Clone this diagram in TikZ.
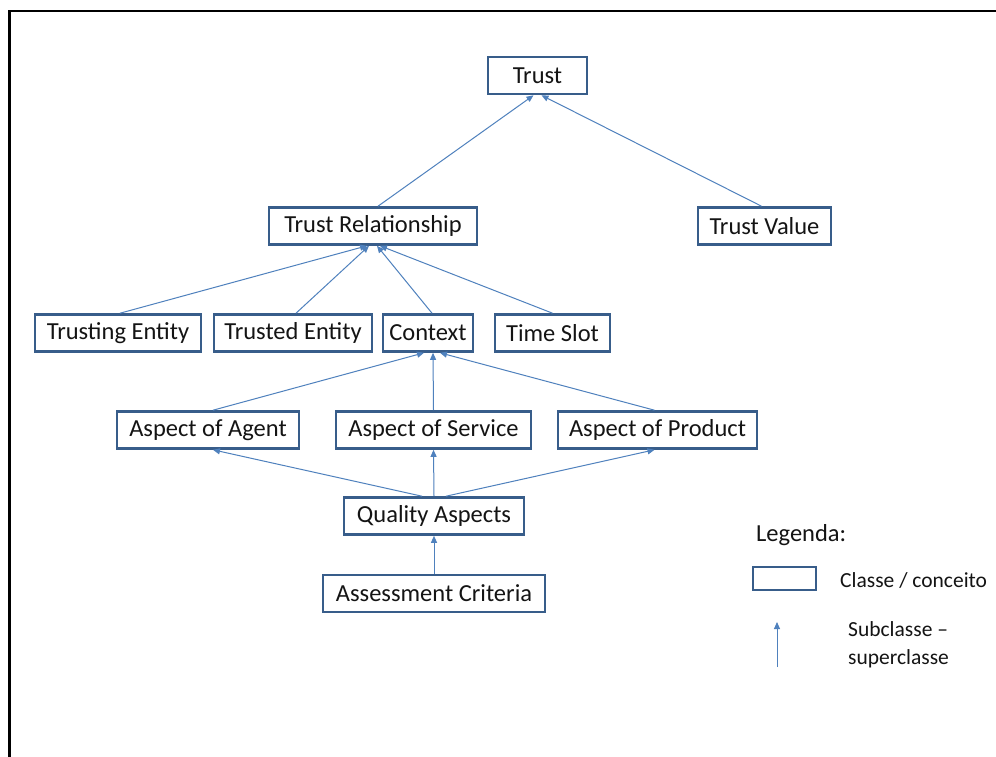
\documentclass[tikz,border=0pt]{standalone}
\usepackage{fontspec}
\setmainfont{Carlito}
\usetikzlibrary{arrows.meta}
\definecolor{boxline}{RGB}{56,93,138}
\definecolor{linkline}{RGB}{79,129,189}
\definecolor{txt}{RGB}{20,20,20}
\begin{document}
\begin{tikzpicture}[x=1pt,y=-1pt,
  cls/.style={draw=boxline,line width=2.6pt,fill=white,minimum height=37,inner sep=0pt,
    font=\fontsize{24.5}{29}\selectfont,text=txt},
  isa/.style={draw=linkline,line width=1pt,-{Triangle[length=7pt,width=6pt]}},
  note/.style={font=\fontsize{21.5}{28}\selectfont,text=txt,anchor=west,inner sep=0pt}]
\useasboundingbox (0,0) rectangle (996,756);
\fill[white] (0,0) rectangle (996,756);
% frame (left and top edges only visible)
\draw[line width=2.2pt,black] (9.5,760) -- (9.5,11) -- (1000,11);

% classes
\node[cls,minimum width=99]  (trust) at (537.5,75.5) {Trust};
\node[cls,minimum width=208] (rel)   at (373,226) {Trust Relationship};
\node[cls,minimum width=133] (val)   at (764.5,226) {Trust Value};
\node[cls,minimum width=166] (ting)  at (118,333) {Trusting Entity};
\node[cls,minimum width=158] (ted)   at (293,333) {Trusted Entity};
\node[cls,minimum width=90]  (ctx)   at (428,333) {Context};
\node[cls,minimum width=115] (slot)  at (552.5,333) {Time Slot};
\node[cls,minimum width=182] (agent) at (208,430) {Aspect of Agent};
\node[cls,minimum width=195] (serv)  at (433.5,430) {Aspect of Service};
\node[cls,minimum width=199] (prod)  at (657.5,430) {Aspect of Product};
\node[cls,minimum width=180] (qual)  at (434,516) {Quality Aspects};
\node[cls,minimum width=222] (crit)  at (434,593.5) {Assessment Criteria};

% subclass links
\draw[isa] ([xshift=5pt]rel.north)   -- ([xshift=-4pt]trust.south);
\draw[isa] ([xshift=-3pt]val.north)  -- ([xshift=4pt]trust.south);
\draw[isa] ([xshift=2pt]ting.north)  -- ([xshift=-6pt]rel.south);
\draw[isa] ([xshift=3pt]ted.north)   -- ([xshift=-4pt]rel.south);
\draw[isa] ([xshift=4pt]ctx.north)   -- ([xshift=4pt]rel.south);
\draw[isa] (slot.north)              -- ([xshift=7pt]rel.south);
\draw[isa] ([xshift=5pt]agent.north) -- ([xshift=-4pt]ctx.south);
\draw[isa] (serv.north)              -- ([xshift=5pt]ctx.south);
\draw[isa] ([xshift=-3pt]prod.north) -- ([xshift=12pt]ctx.south);
\draw[isa] ([xshift=-12pt]qual.north) -- ([xshift=5pt]agent.south);
\draw[isa] (qual.north)              -- (serv.south);
\draw[isa] ([xshift=12pt]qual.north) -- ([xshift=-3pt]prod.south);
\draw[isa] (crit.north)              -- (qual.south);

% legend
\node[note,font=\fontsize{24.5}{29}\selectfont] (leg) at (756,535) {Legenda:};
\node[draw=boxline,line width=2.6pt,minimum width=63,minimum height=23,inner sep=0pt] (legbox) at (784.5,578.5) {};
\node[note] (legcls) at (840,580) {Classe / conceito};
\coordinate (legtail) at (777,667);
\coordinate (leghead) at (777,622);
\draw[isa] (legtail) -- (leghead);
\node[note,align=left] (legsub) at (848,645) {Subclasse –\\superclasse};
\end{tikzpicture}
\end{document}
